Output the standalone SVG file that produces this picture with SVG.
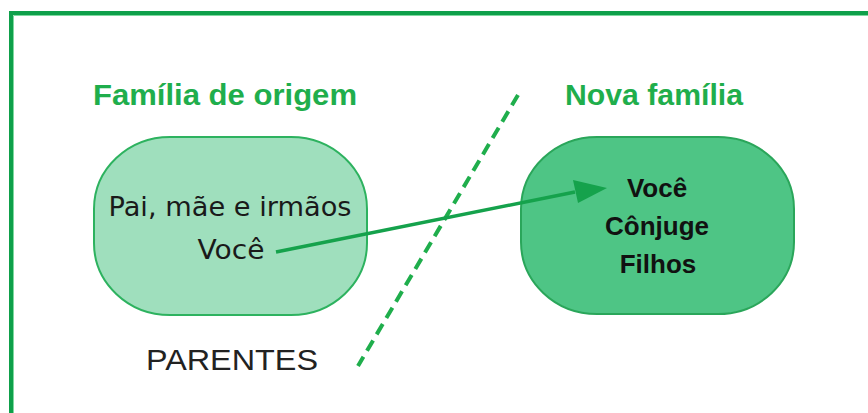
<svg xmlns="http://www.w3.org/2000/svg" width="868" height="413" viewBox="0 0 868 413">
<defs>
<style>
.title{font-family:"Liberation Sans",Arial,sans-serif;font-weight:bold;font-size:30px;fill:#1fae4c}
.reg{font-family:"DejaVu Sans","Liberation Sans",sans-serif;font-size:26px;fill:#1a1a1a;text-anchor:middle}
.bold{font-family:"Liberation Sans",Arial,sans-serif;font-weight:bold;font-size:26px;fill:#111;text-anchor:middle}
.lbl{font-family:"Liberation Sans",Arial,sans-serif;font-size:30px;fill:#222}
.conn{stroke:#15a24c;fill:none}
</style>
</defs>
<rect width="868" height="413" fill="#fff"/>
<path d="M11,413 V13 H868" fill="none" stroke="#0ea04a" stroke-width="4"/>
<path d="M13.5,413 V15.5 H868" fill="none" stroke="#7fd9a0" stroke-width="1"/>

<text class="title" x="93" y="105" textLength="264" lengthAdjust="spacingAndGlyphs">Família de origem</text>
<text class="title" x="565" y="105" textLength="178" lengthAdjust="spacingAndGlyphs">Nova família</text>

<g id="origem">
<rect x="94" y="137" width="273" height="178" rx="76" ry="72" fill="#9fdfbd" stroke="#2db25f" stroke-width="2"/>
<text class="reg" x="230" y="216" textLength="243" lengthAdjust="spacingAndGlyphs">Pai, mãe e irmãos</text>
<text class="reg" x="231" y="259" textLength="67" lengthAdjust="spacingAndGlyphs">Você</text>
</g>

<g id="nova">
<rect x="521" y="137" width="273" height="177" rx="76" ry="72" fill="#4ec585" stroke="#2aa65a" stroke-width="2"/>
<text class="bold" x="657" y="197">Você</text>
<text class="bold" x="657" y="235">Cônjuge</text>
<text class="bold" x="658" y="273">Filhos</text>
</g>

<text class="lbl" x="146" y="370" textLength="172" lengthAdjust="spacingAndGlyphs">PARENTES</text>

<g id="connectors">
<line x1="518" y1="95" x2="358" y2="366" stroke="#1fae4c" stroke-width="4" stroke-dasharray="12 7"/>
<line class="conn" x1="276" y1="252" x2="575" y2="192" stroke-width="3.5"/>
<path d="M607,188 L573,180 L578,203 z" fill="#15a24c"/>
</g>
</svg>
